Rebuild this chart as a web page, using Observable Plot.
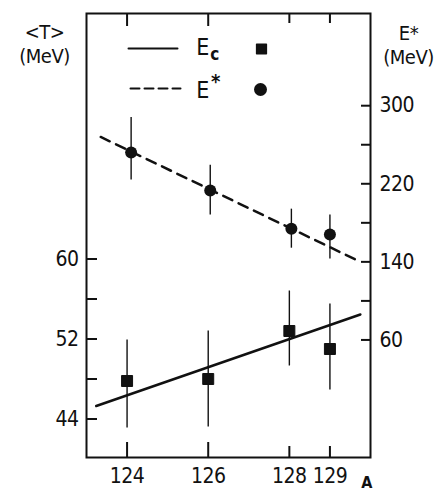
<!DOCTYPE html>
<html><head><meta charset="utf-8">
<script src="https://cdn.jsdelivr.net/npm/d3@7"></script>
<script src="https://cdn.jsdelivr.net/npm/@observablehq/plot@0.6"></script>
<style>body{margin:0;background:#fff} svg{display:block}
svg text{font-stretch:condensed}</style>
</head><body><div id="chart"></div>
<script>
// Data
const massT = [124, 126, 128, 129];          // x of the Ec (squares)
const massE = [124.1, 126.05, 128.05, 129];  // x of the E* (circles)
const tMean = [47.8, 48.0, 52.8, 51.0];      // <T> (MeV), left axis
const tLow  = [43.1, 43.2, 49.3, 46.9];
const tHigh = [51.9, 52.8, 56.8, 55.5];
const eMean = [252, 213, 174, 168];          // E* (MeV), right axis
const eLow  = [224, 188, 154, 143];
const eHigh = [288, 239, 194, 188];
const fitTx = [123.24, 129.75], fitTy = [45.3, 54.45];   // solid line (Ec)
const fitEx = [123.35, 129.7],  fitEy = [268, 141];      // dashed line (E*)
const xTicks = [124, 126, 128, 129];
const xLong = [124, 126], xShort = [128, 129];
const leftTicks = [44, 48, 52, 56, 60], leftLabels = [44, 52, 60];
const rightTicks = [60, 100, 140, 180, 220, 260, 300], rightLabels = [60, 140, 220, 300];

// right axis (E*) expressed in left-axis units
const eToT = v => 46.05 + 0.0976 * v;
const tToE = t => Math.round((t - 46.05) / 0.0976);

const T = massT.map((x, i) => ({x, y: tMean[i], lo: tLow[i], hi: tHigh[i]}));
const E = massE.map((x, i) => ({x, y: eToT(eMean[i]), lo: eToT(eLow[i]), hi: eToT(eHigh[i])}));
const lineT = fitTx.map((x, i) => ({x, y: fitTy[i]}));
const lineE = fitEx.map((x, i) => ({x, y: eToT(fitEy[i])}));

const FONT = "'DejaVu Sans Condensed', 'DejaVu Sans', sans-serif";
const seg = {draw(ctx, l) { ctx.moveTo(0, 0); ctx.lineTo(0, -l); }};
const lbl = (s, anchor, dx, dy, size, extra = {}) =>
  Plot.text([s], {frameAnchor: anchor, dx, dy, textAnchor: "middle", lineAnchor: "middle", fontSize: size, ...extra});

const chart = Plot.plot({
  width: 444, height: 491,
  marginLeft: 86, marginRight: 74, marginTop: 13, marginBottom: 34,
  style: {fontFamily: FONT, fontSize: "21px", color: "#111", background: "#fff", letterSpacing: "-0.5px"},
  x: {domain: [123, 130]},
  y: {domain: [40.15, 84.55]},
  marks: [
    // frame
    Plot.frame({stroke: "#111", strokeWidth: 2}),
    // bottom ticks (inward)
    Plot.axisX(xLong, {anchor: "bottom", tickSize: -15, text: null, strokeWidth: 2, label: null}),
    Plot.axisX(xShort, {anchor: "bottom", tickSize: -11, text: null, strokeWidth: 2, label: null}),
    Plot.axisX(xTicks, {anchor: "bottom", tickSize: 0, tickPadding: 11, label: null}),
    // top ticks (inward)
    Plot.axisX(xLong, {anchor: "top", tickSize: -12, text: null, strokeWidth: 2, label: null}),
    Plot.axisX(xShort, {anchor: "top", tickSize: -9, text: null, strokeWidth: 2, label: null}),
    // left axis
    Plot.axisY(leftTicks, {anchor: "left", tickSize: -11, text: null, strokeWidth: 2, label: null}),
    Plot.axisY(leftLabels, {anchor: "left", tickSize: 0, tickPadding: 8, label: null}),
    // right axis (E*)
    Plot.axisY(rightTicks.map(eToT), {anchor: "right", tickSize: -10, text: null, strokeWidth: 2, label: null}),
    Plot.axisY(rightLabels.map(eToT), {anchor: "right", tickSize: 0, tickPadding: 9, tickFormat: tToE, label: null}),
    // axis titles
    lbl("<T>\n(MeV)", "top-left", -42, 30, 20, {lineHeight: 1.2}),
    lbl("E*\n(MeV)", "top-right", 38, 31, 20, {lineHeight: 1.2}),
    lbl("A", "bottom-right", -4, 25, 16, {fontWeight: "bold"}),
    // fit lines
    Plot.line(lineT, {x: "x", y: "y", stroke: "#111", strokeWidth: 2.5}),
    Plot.line(lineE, {x: "x", y: "y", stroke: "#111", strokeWidth: 2.5, strokeDasharray: "10,7"}),
    // error bars
    Plot.ruleX(T, {x: "x", y1: "lo", y2: "hi", stroke: "#111", strokeWidth: 1.4}),
    Plot.ruleX(E, {x: "x", y1: "lo", y2: "hi", stroke: "#111", strokeWidth: 1.4}),
    // markers
    Plot.dot(T, {x: "x", y: "y", symbol: "square", r: 6.2, fill: "#111", stroke: "#111", strokeWidth: 1, strokeLinejoin: "round"}),
    Plot.dot(E, {x: "x", y: "y", symbol: "circle", r: 6, fill: "#111"}),
    // legend
    Plot.vector([0], {frameAnchor: "top-left", dx: 42, dy: 35, length: 49, rotate: 90, anchor: "start", shape: seg, stroke: "#111", strokeWidth: 2}),
    lbl("E", "top-left", 116, 34, 23),
    lbl("c", "top-left", 128, 41, 17, {fontWeight: "bold"}),
    Plot.dot([0], {frameAnchor: "top-left", dx: 175, dy: 35.5, symbol: "square", r: 5.5, fill: "#111", stroke: "#111", strokeLinejoin: "round"}),
    Plot.vector([0], {frameAnchor: "top-left", dx: 44, dy: 75, length: 50, rotate: 90, anchor: "start", shape: seg, stroke: "#111", strokeWidth: 2, strokeDasharray: "9,5"}),
    lbl("E", "top-left", 116, 77, 23),
    lbl("*", "top-left", 129, 68, 20, {fontWeight: "bold"}),
    Plot.dot([0], {frameAnchor: "top-left", dx: 174, dy: 76, symbol: "circle", r: 6.5, fill: "#111"})
  ]
});
document.getElementById("chart").append(chart);
</script>
</body></html>
